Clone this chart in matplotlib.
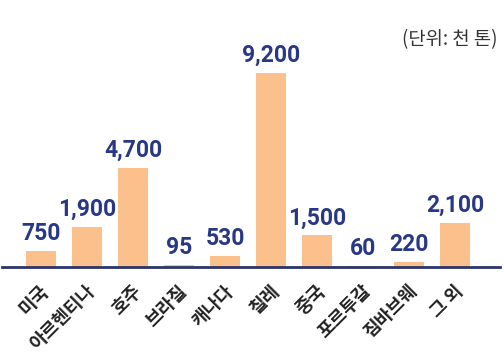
import matplotlib
matplotlib.use("Agg")
import matplotlib.pyplot as plt

categories = ["미국", "아르헨티나", "호주", "브라질", "캐나다", "칠레", "중국", "포르투갈", "짐바브웨", "그 외"]
values = [750, 1900, 4700, 95, 530, 9200, 1500, 60, 220, 2100]
value_labels = ["750", "1,900", "4,700", "95", "530", "9,200", "1,500", "60", "220", "2,100"]
unit_text = "(단위: 천 톤)"

W, H = 504, 358
fig = plt.figure(figsize=(W / 100, H / 100), dpi=100)
ax = fig.add_axes([2 / W, 91 / H, 498 / W, 232 / H])

x = list(range(len(categories)))
ax.bar(x, values, width=0.65, color="#FCC08D", zorder=2)
ax.set_xlim(-0.848, 9.978)
ax.set_ylim(0, 11000)

for xi, v, lab in zip(x, values, value_labels):
    ax.annotate(lab, (xi, v), xytext=(0, 6), textcoords="offset pixels",
                ha="center", va="bottom", fontsize=16.5, fontweight="bold",
                color="#283885", family=["Roboto", "DejaVu Sans"])

for xi, cat in zip(x, categories):
    ax.annotate(cat, (xi, 0), xycoords=("data", "axes fraction"),
                xytext=(5, -21), textcoords="offset pixels",
                rotation=45, rotation_mode="anchor", ha="right", va="center",
                fontsize=13, fontweight="bold", color="#222222",
                family=["Noto Sans CJK KR", "DejaVu Sans"])

for s in ["top", "right", "left"]:
    ax.spines[s].set_visible(False)
ax.spines["bottom"].set_color("#2B3568")
ax.spines["bottom"].set_linewidth(2)
ax.set_yticks([])
ax.set_xticks([])

fig.text(497 / W, 1 - 40 / H, unit_text, ha="right", va="center", fontsize=13.5,
         color="#333333", family=["Noto Sans CJK KR", "DejaVu Sans"])

fig.savefig("out.png", dpi=100)
